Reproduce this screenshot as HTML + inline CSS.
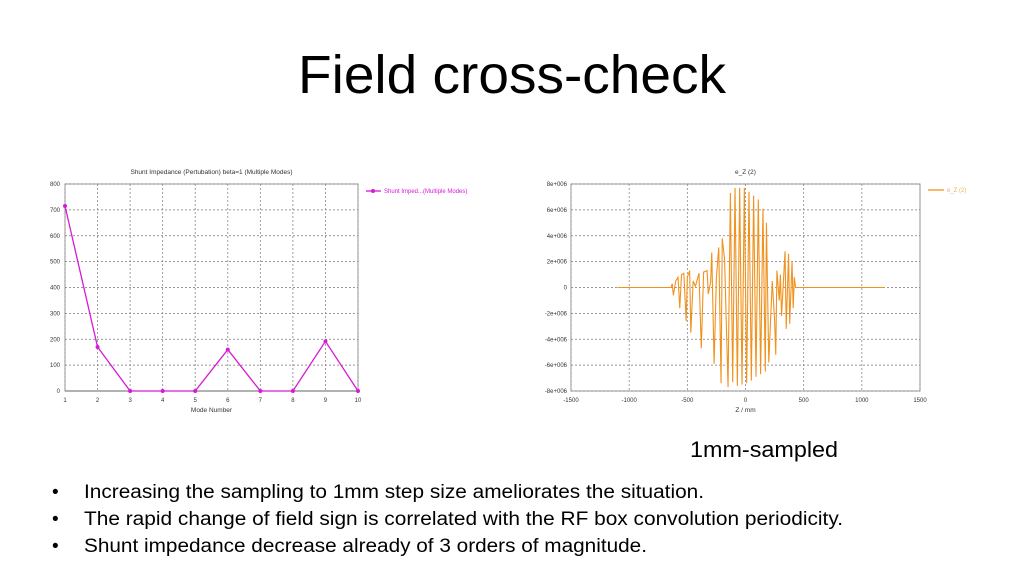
<!DOCTYPE html>
<html><head><meta charset="utf-8"><style>
html,body{margin:0;padding:0;background:#fff;}
svg{display:block;font-family:"Liberation Sans",sans-serif;}
</style></head><body>
<svg id="s" width="1024" height="576" viewBox="0 0 1024 576">
<text x="512" y="93" text-anchor="middle" font-size="54" textLength="428" lengthAdjust="spacingAndGlyphs" fill="#000">Field cross-check</text>
<text x="690" y="457" font-size="22" textLength="148" lengthAdjust="spacingAndGlyphs">1mm-sampled</text>
<g font-size="19">
<text x="52" y="498">•</text>
<text x="84" y="498" textLength="620" lengthAdjust="spacingAndGlyphs">Increasing the sampling to 1mm step size ameliorates the situation.</text>
<text x="52" y="525">•</text>
<text x="84" y="525" textLength="759" lengthAdjust="spacingAndGlyphs">The rapid change of field sign is correlated with the RF box convolution periodicity.</text>
<text x="52" y="552">•</text>
<text x="84" y="552" textLength="563" lengthAdjust="spacingAndGlyphs">Shunt impedance decrease already of 3 orders of magnitude.</text>
</g>
<g id="c1"></g>
<g id="c2"></g>
</svg>
<script>
const modes=[1,2,3,4,5,6,7,8,9,10];
const impedance=[715,170,0,0,0,160,0,0,192,0];
const yTicks1=[0,100,200,300,400,500,600,700,800];
const zPos=[-1100,-640,-630,-620,-600,-580,-565,-550,-530,-510,-500,-480,-470,-450,-430,-400,-380,-360,-330,-320,-300,-290,-270,-250,-230,-210,-200,-180,-150,-130,-110,-90,-70,-50,-30,-10,10,30,50,70,90,110,130,150,170,180,200,230,250,260,270,290,300,310,340,350,370,380,400,410,420,430,1200];
const ezVal=[0,0,0.3,-0.6,0.5,0.8,-1.6,1.0,1.1,-2.6,0.8,1.3,-3.5,0.5,0.1,1.1,-4.7,1.2,1.3,-0.5,0.4,2.7,-5.9,0.8,3.1,-7.4,3.8,2.2,-7.7,7.3,-7.3,7.7,-7.6,7.7,-7.5,7.7,-7.4,7.4,-7.2,7.1,-6.9,6.8,-6.7,6.1,-6.5,5.0,-5.8,0.5,-2.5,-5.2,1.3,-1.0,1.0,-2.2,2.8,-3.2,2.6,-2.8,2.0,-1.6,0.8,0,0];
const xTicks2=[-1500,-1000,-500,0,500,1000,1500];
const yTicks2=[-8,-6,-4,-2,0,2,4,6,8];
const yTickLabels2=["-8e+006","-6e+006","-4e+006","-2e+006","0","2e+006","4e+006","6e+006","8e+006"];
const NS="http://www.w3.org/2000/svg";
function mk(p,t,a){const e=document.createElementNS(NS,t);for(const k in a)e.setAttribute(k,a[k]);p.appendChild(e);return e;}
// chart 1
const c1=document.getElementById('c1');
const L1=65,R1=358,T1=184,B1=391;
const x1=v=>L1+(v-1)/9*(R1-L1), y1=v=>B1-v/800*(B1-T1);
mk(c1,'rect',{x:L1,y:T1,width:R1-L1,height:B1-T1,fill:'#fff',stroke:'#999'});
for(const t of yTicks1){const g=mk(c1,'line',{x1:L1,x2:R1,y1:y1(t),y2:y1(t),stroke:t==0?'#555':'#777','stroke-dasharray':t==0?'':'2,2','stroke-width':0.8});

const l=mk(c1,'text',{x:L1-5,y:y1(t)+2,'text-anchor':'end','font-size':6,fill:'#333'});l.textContent=t;
}
for(const m of modes){const g=mk(c1,'line',{x1:x1(m),x2:x1(m),y1:T1,y2:B1,stroke:'#888','stroke-dasharray':'2,2','stroke-width':0.8});

const l=mk(c1,'text',{x:x1(m),y:B1+11,'text-anchor':'middle','font-size':6,fill:'#333'});l.textContent=m;
}
let t=mk(c1,'text',{x:(L1+R1)/2,y:174,'text-anchor':'middle','font-size':6.5,fill:'#333'});t.textContent='Shunt Impedance (Pertubation) beta=1 (Multiple Modes)';

t=mk(c1,'text',{x:(L1+R1)/2,y:412,'text-anchor':'middle','font-size':6.5,fill:'#333'});t.textContent='Mode Number';

const ln=mk(c1,'polyline',{points:modes.map((m,i)=>x1(m)+','+y1(impedance[i])).join(' '),fill:'none',stroke:'#d61ad6','stroke-width':1.3});

modes.forEach((m,i)=>{const p=mk(c1,'circle',{cx:x1(m),cy:y1(impedance[i]),r:2,fill:'#d61ad6'});
});
const lg=mk(c1,'g',{});
mk(lg,'line',{x1:366,x2:381,y1:191,y2:191,stroke:'#d61ad6','stroke-width':1.3});mk(lg,'circle',{cx:373,cy:191,r:2,fill:'#d61ad6'});
t=mk(lg,'text',{x:384,y:193,'font-size':6,fill:'#d61ad6'});t.textContent='Shunt Imped...(Multiple Modes)';
// chart 2
const c2=document.getElementById('c2');
const L2=571,R2=920,T2=184,B2=391;
const x2=v=>L2+(v+1500)/3000*(R2-L2), y2=v=>B2-(v+8)/16*(B2-T2);
mk(c2,'rect',{x:L2,y:T2,width:R2-L2,height:B2-T2,fill:'#fff',stroke:'#999'});
yTicks2.forEach((v,i)=>{const g=mk(c2,'line',{x1:L2,x2:R2,y1:y2(v),y2:y2(v),stroke:'#777','stroke-dasharray':'2,2','stroke-width':0.8});

const l=mk(c2,'text',{x:L2-4,y:y2(v)+2,'text-anchor':'end','font-size':6,fill:'#333'});l.textContent=yTickLabels2[i];
});
xTicks2.forEach(v=>{const g=mk(c2,'line',{x1:x2(v),x2:x2(v),y1:T2,y2:B2,stroke:'#888','stroke-dasharray':'2,2','stroke-width':0.8});

const l=mk(c2,'text',{x:x2(v),y:B2+11,'text-anchor':'middle','font-size':6,fill:'#333'});l.textContent=v;
});
t=mk(c2,'text',{x:(L2+R2)/2,y:174,'text-anchor':'middle','font-size':6.5,fill:'#333'});t.textContent='e_Z (2)';

t=mk(c2,'text',{x:(L2+R2)/2,y:412,'text-anchor':'middle','font-size':6.5,fill:'#333'});t.textContent='Z / mm';

const ez=mk(c2,'polyline',{points:zPos.map((z,i)=>x2(z)+','+y2(ezVal[i])).join(' '),fill:'none',stroke:'#f0921e','stroke-width':1.1});

const lg2=mk(c2,'g',{});
mk(lg2,'line',{x1:928,x2:944,y1:190,y2:190,stroke:'#f0921e','stroke-width':1.3});
t=mk(lg2,'text',{x:947,y:192,'font-size':6,fill:'#f0b060'});t.textContent='e_Z (2)';
</script>
</body></html>
